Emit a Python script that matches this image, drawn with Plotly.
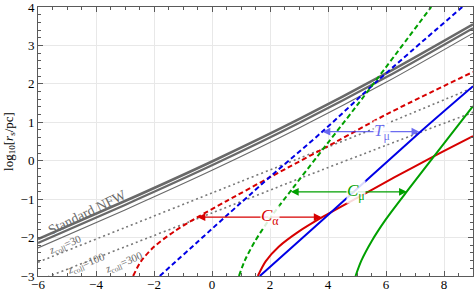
import plotly.graph_objects as go

# ---- data ----
nfw_x = [-6, -3, 0, 3, 6, 9]
nfw_std_a = [-2.04, -1.05, -0.02, 1.08, 2.27, 3.55]
nfw_std_b = [-2.14, -1.15, -0.12, 0.98, 2.17, 3.45]
nfw_z30 = [-2.27, -1.28, -0.25, 0.85, 2.04, 3.32]
nfw_z100 = [-2.64, -1.74, -0.84, 0.06, 0.96, 1.90]
nfw_z300 = [-3.12, -2.24, -1.36, -0.47, 0.40, 1.26]

ca_dash_x = [-2.72, -2.45, -2.0, -1.3, -0.5, 0.5, 2.0, 4.3, 6.0, 9.0]
ca_dash_y = [-3.0, -2.62, -2.24, -1.84, -1.47, -1.05, -0.43, 0.50, 1.20, 2.31]
ca_sol_x = [1.58, 1.85, 2.3, 3.0, 3.8, 4.8, 6.3, 7.66, 9.0]
ca_sol_y = [-3.0, -2.62, -2.24, -1.84, -1.47, -1.05, -0.43, 0.12, 0.64]

tm_dash_x = [-1.8, 2.0, 3.81, 5.77, 8.63]
tm_dash_y = [-3.0, -0.42, 0.76, 2.12, 4.0]
tm_sol_x = [1.65, 3.8, 7.15, 9.0]
tm_sol_y = [-3.0, -1.55, 0.73, 1.94]

cm_dash_x = [0.93, 1.13, 1.48, 1.98, 2.78, 3.64, 4.98, 7.56]
cm_dash_y = [-3.0, -2.6, -2.1, -1.52, -0.72, 0.12, 1.42, 4.0]
cm_sol_x = [4.95, 5.15, 5.5, 6.0, 6.8, 7.66, 9.0]
cm_sol_y = [-3.0, -2.6, -2.1, -1.52, -0.72, 0.12, 1.42]

arrow_labels = ["<i>C</i><sub>α</sub>", "<i>C</i><sub>μ</sub>", "<i>T</i><sub>μ</sub>"]
arrow_y = [-1.47, -0.81, 0.755]
arrow_left = [-0.5, 2.72, 3.81]
arrow_right = [3.78, 6.72, 7.15]
arrow_label_x = [2.0, 4.98, 5.85]

x_ticks = [-6, -4, -2, 0, 2, 4, 6, 8]
y_ticks = [-3, -2, -1, 0, 1, 2, 3, 4]

RED = "rgb(215,0,0)"
BLUE = "rgb(0,0,230)"
GREEN = "rgb(0,160,0)"
GRAY = "rgb(105,105,105)"
DGRAY = "rgb(120,120,120)"
arrow_colors = [RED, GREEN, "rgba(60,60,235,0.75)"]

fig = go.Figure()

def add(x, y, color, width, dash="solid"):
    fig.add_trace(go.Scatter(x=x, y=y, mode="lines",
                             line=dict(color=color, width=width, dash=dash, shape="spline", smoothing=0.8),
                             hoverinfo="skip", showlegend=False))

add(nfw_x, nfw_std_a, GRAY, 2.6)
add(nfw_x, nfw_std_b, GRAY, 2.2)
add(nfw_x, nfw_z30, GRAY, 1.1)
add(nfw_x, nfw_z100, DGRAY, 1.6, "2px,3px")
add(nfw_x, nfw_z300, DGRAY, 1.6, "2px,3px")

add(ca_dash_x, ca_dash_y, RED, 2, "5px,3px")
add(tm_dash_x, tm_dash_y, BLUE, 2, "5px,3px")
add(cm_dash_x, cm_dash_y, GREEN, 2, "5px,3px")
add(ca_sol_x, ca_sol_y, RED, 2)
add(tm_sol_x, tm_sol_y, BLUE, 2)
add(cm_sol_x, cm_sol_y, GREEN, 2)

ann = []
for lab, yy, xl, xr, xc, col in zip(arrow_labels, arrow_y, arrow_left, arrow_right, arrow_label_x, arrow_colors):
    for xe in (xl, xr):
        ann.append(dict(x=xe, y=yy, ax=xc, ay=yy, axref="x", ayref="y", xref="x", yref="y",
                        text="", showarrow=True, arrowhead=2, arrowsize=1.3, arrowwidth=1.2,
                        arrowcolor=col, standoff=0, startstandoff=0))
    ann.append(dict(x=xc, y=yy, xref="x", yref="y", text=lab, showarrow=False,
                    font=dict(family="Liberation Serif", size=17, color=col),
                    bgcolor="rgba(255,255,255,0.85)", borderpad=0))

lab_font = dict(family="Liberation Serif", size=11, color=GRAY)
ann.append(dict(x=-4.31, y=-1.36, xref="x", yref="y", text="Standard NFW", showarrow=False,
                textangle=-26, font=dict(family="Liberation Serif", size=14, color=GRAY)))
ann.append(dict(x=-5.05, y=-2.2, xref="x", yref="y", text="<i>z</i><sub>coll</sub>=30", showarrow=False,
                textangle=-22, font=lab_font))
ann.append(dict(x=-4.35, y=-2.68, xref="x", yref="y", text="<i>z</i><sub>coll</sub>=100", showarrow=False,
                textangle=-22, font=lab_font))
ann.append(dict(x=-3.05, y=-2.66, xref="x", yref="y", text="<i>z</i><sub>coll</sub>=300", showarrow=False,
                textangle=-22, font=lab_font))

axis_common = dict(showline=True, linecolor="rgb(90,90,90)", linewidth=1, mirror="allticks",
                   ticks="inside", ticklen=5, tickcolor="rgb(90,90,90)", tickwidth=1,
                   showgrid=True, gridcolor="rgb(232,232,232)", gridwidth=1, zeroline=False,
                   automargin=False, ticklabeloverflow="allow",
                   tickfont=dict(family="Liberation Serif", size=13, color="black"))

fig.update_layout(
    width=474, height=292,
    margin=dict(l=38, r=1, t=7, b=16),
    plot_bgcolor="white", paper_bgcolor="white",
    annotations=ann,
    xaxis=dict(range=[-6.0001, 9.0001], tickvals=x_ticks, ticklabelstandoff=-4,
               minor=dict(dtick=0.5, ticks="inside", ticklen=3, tickcolor="rgb(90,90,90)", showgrid=False),
               **axis_common),
    yaxis=dict(range=[-3.0001, 4.0001], tickvals=y_ticks,
               minor=dict(dtick=0.2, ticks="inside", ticklen=3, tickcolor="rgb(90,90,90)", showgrid=False),
               title=dict(text="log<sub>10</sub>[<i>r</i><sub>s</sub>/pc]", standoff=4,
                          font=dict(family="Liberation Serif", size=13, color="black")),
               **axis_common),
)

fig.write_html("out.html", config={"displayModeBar": False},
               post_script="document.body.style.margin='0';document.body.style.overflow='hidden';")
